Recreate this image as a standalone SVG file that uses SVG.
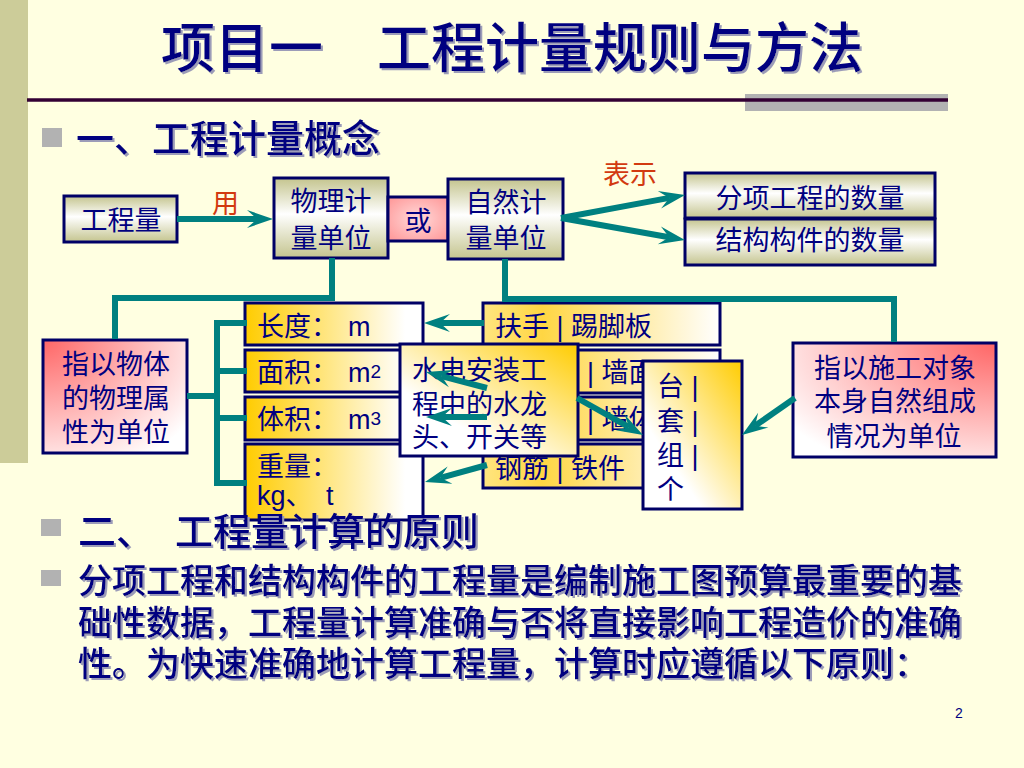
<svg xmlns="http://www.w3.org/2000/svg" width="1024" height="768" viewBox="0 0 1024 768">
<defs>
<linearGradient id="olive" x1="0" y1="0" x2="0" y2="1">
<stop offset="0" stop-color="#C4C48E"/>
<stop offset="0.45" stop-color="#FFFFFF"/>
<stop offset="1" stop-color="#C4C48E"/>
</linearGradient>
<radialGradient id="pinkC" cx="0.5" cy="0.5" r="0.75">
<stop offset="0" stop-color="#FFDADA"/>
<stop offset="1" stop-color="#FF9090"/>
</radialGradient>
<radialGradient id="pinkTL" cx="0" cy="0" r="1.25">
<stop offset="0" stop-color="#FF6666"/>
<stop offset="1" stop-color="#FFFFFF"/>
</radialGradient>
<radialGradient id="pinkTR" cx="1" cy="0" r="1.25">
<stop offset="0" stop-color="#FF6666"/>
<stop offset="1" stop-color="#FFFFFF"/>
</radialGradient>
<linearGradient id="goldL" x1="0" y1="0" x2="1" y2="0">
<stop offset="0" stop-color="#FFCC00"/>
<stop offset="0.9" stop-color="#FFFFFF"/>
</linearGradient>
<linearGradient id="goldRow" x1="0" y1="0" x2="1" y2="0">
<stop offset="0" stop-color="#FFE580"/>
<stop offset="0.25" stop-color="#FFD643"/>
<stop offset="1" stop-color="#FFFFFF"/>
</linearGradient>
<linearGradient id="goldTR" x1="1" y1="0" x2="0" y2="1">
<stop offset="0" stop-color="#FFCC00"/>
<stop offset="0.7" stop-color="#FFFFFF"/>
</linearGradient>
<filter id="shadow" x="-5%" y="-20%" width="110%" height="140%">
<feDropShadow dx="2" dy="2" stdDeviation="0.3" flood-color="#9C9CB8" flood-opacity="1"/>
</filter>
<marker id="ah" markerUnits="userSpaceOnUse" markerWidth="26" markerHeight="18" refX="10" refY="9" orient="auto" overflow="visible">
<path d="M0,0 L26,9 L0,18 L10,9 Z" fill="#008080"/>
</marker>
<style>
.box{stroke:#000066;stroke-width:3}
.t{font-family:"Liberation Sans","Noto Sans CJK SC",sans-serif;fill:#000080;font-size:27px}
.c{text-anchor:middle}
.h{font-family:"Noto Sans CJK SC",sans-serif;fill:#000080;font-weight:500;filter:url(#shadow)}
.red{font-family:"Noto Sans CJK SC",sans-serif;fill:#D23A10;font-size:27px}
.conn{fill:none;stroke:#008080;stroke-width:6}
.arr{stroke:#008080;stroke-width:6;marker-end:url(#ah)}
.bul{fill:#B2B2B2}
</style>
</defs>

<rect x="0" y="0" width="1024" height="768" fill="#FFFFE1"/>
<rect x="0" y="0" width="28" height="463" fill="#CCCC99"/>

<g id="title">
<text class="h" x="512" y="68" font-size="54" text-anchor="middle">项目一　工程计量规则与方法</text>
<rect x="745" y="94" width="203" height="17" fill="#B2B2B2"/>
<line x1="27" y1="100" x2="948" y2="100" stroke="#330033" stroke-width="3.5"/>
</g>

<g id="heading1">
<rect class="bul" x="42" y="128" width="20" height="19"/>
<text class="h" x="76" y="152" font-size="38">一、工程计量概念</text>
</g>

<g id="n-gongchengliang">
<rect class="box" x="64" y="196" width="113" height="46" fill="url(#olive)"/>
<text class="t c" x="121" y="230" font-size="28">工程量</text>
</g>
<g id="lbl-yong"><text class="red" x="212" y="213">用</text></g>

<g id="n-wuli">
<rect class="box" x="274" y="178" width="114" height="80" fill="url(#olive)"/>
<text class="t c" x="331" y="211" font-size="28">物理计</text>
<text class="t c" x="331" y="248" font-size="28">量单位</text>
</g>

<g id="n-huo">
<rect class="box" x="388" y="197" width="60" height="44" fill="url(#pinkC)"/>
<text class="t c" x="418" y="231" font-size="28">或</text>
</g>

<g id="n-ziran">
<rect class="box" x="448" y="179" width="115" height="80" fill="url(#olive)"/>
<text class="t c" x="506" y="212" font-size="28">自然计</text>
<text class="t c" x="506" y="248" font-size="28">量单位</text>
</g>
<g id="lbl-biaoshi"><text class="red" x="603" y="184">表示</text></g>

<g id="n-fenxiang">
<rect class="box" x="685" y="173" width="250" height="45" fill="url(#olive)"/>
<text class="t c" x="810" y="208" font-size="28">分项工程的数量</text>
</g>
<g id="n-jiegou">
<rect class="box" x="685" y="219" width="250" height="46" fill="url(#olive)"/>
<text class="t c" x="810" y="250" font-size="28">结构构件的数量</text>
</g>

<g id="n-wulishuxing">
<rect class="box" x="43" y="340" width="144" height="113" fill="url(#pinkTL)"/>
<text class="t c" x="116" y="374">指以物体</text>
<text class="t c" x="116" y="408">的物理属</text>
<text class="t c" x="116" y="442">性为单位</text>
</g>

<g id="n-changdu">
<rect class="box" x="245" y="303" width="178" height="42" fill="url(#goldL)"/>
<text class="t" x="257" y="336">长度：<tspan x="348">m</tspan></text>
</g>
<g id="n-mianji">
<rect class="box" x="245" y="350" width="178" height="42" fill="url(#goldL)"/>
<text class="t" x="257" y="382">面积：<tspan x="348">m</tspan><tspan font-size="19" dy="-4">2</tspan></text>
</g>
<g id="n-tiji">
<rect class="box" x="245" y="397" width="178" height="43" fill="url(#goldL)"/>
<text class="t" x="257" y="429">体积：<tspan x="348">m</tspan><tspan font-size="19" dy="-4">3</tspan></text>
</g>
<g id="n-zhongliang">
<rect class="box" x="245" y="444" width="178" height="76" fill="url(#goldL)"/>
<text class="t" x="257" y="476">重量：</text>
<text class="t" x="257" y="505">kg、<tspan x="326">t</tspan></text>
</g>

<g id="n-fushou">
<rect class="box" x="483" y="303" width="237" height="42" fill="url(#goldRow)"/>
<text class="t" x="495" y="336">扶手 | 踢脚板</text>
</g>
<g id="n-qiangmian">
<rect class="box" x="483" y="350" width="237" height="43" fill="url(#goldRow)"/>
<text class="t" x="587" y="382">| 墙面</text>
</g>
<g id="n-qiangti">
<rect class="box" x="483" y="397" width="237" height="43" fill="url(#goldRow)"/>
<text class="t" x="587" y="429">| 墙体</text>
</g>
<g id="n-gangjin">
<rect class="box" x="483" y="444" width="237" height="44" fill="url(#goldRow)"/>
<text class="t" x="495" y="478">钢筋 | 铁件</text>
</g>

<g id="n-shuidian">
<rect class="box" x="400" y="344" width="178" height="112" fill="url(#goldTR)"/>
<text class="t" x="412" y="380">水电安装工</text>
<text class="t" x="412" y="414">程中的水龙</text>
<text class="t" x="412" y="447">头、开关等</text>
</g>

<g id="n-taitao">
<rect class="box" x="643" y="361" width="99" height="148" fill="url(#goldTR)"/>
<text class="t" x="657" y="396">台 |</text>
<text class="t" x="657" y="431">套 |</text>
<text class="t" x="657" y="465">组 |</text>
<text class="t" x="657" y="499">个</text>
</g>

<g id="n-shigong">
<rect class="box" x="793" y="343" width="203" height="114" fill="url(#pinkTR)"/>
<text class="t c" x="895" y="378">指以施工对象</text>
<text class="t c" x="895" y="411">本身自然组成</text>
<text class="t c" x="894" y="446">情况为单位</text>
</g>

<g id="connectors">
<polyline class="conn" points="332,258 332,298 115,298 115,339"/>
<polyline class="conn" points="505,259 505,299 894,299 894,342"/>
<line class="conn" x1="187" y1="396" x2="217" y2="396"/>
<polyline class="conn" points="247,323 217,323 217,483 247,483"/>
<line class="conn" x1="217" y1="371" x2="247" y2="371"/>
<line class="conn" x1="217" y1="418" x2="247" y2="418"/>
<line class="arr" x1="177" y1="219" x2="257" y2="219"/>
<line class="arr" x1="561" y1="218" x2="669.3" y2="197.9"/>
<line class="arr" x1="561" y1="218" x2="669.2" y2="237.2"/>
<line class="arr" x1="484" y1="323" x2="440" y2="323"/>
<line class="arr" x1="487" y1="388" x2="441.5" y2="376.1"/>
<line class="arr" x1="487" y1="417" x2="442" y2="417"/>
<line class="arr" x1="487" y1="465" x2="440.4" y2="477.8"/>
<line class="arr" x1="577" y1="398" x2="629" y2="427.2"/>
<line class="arr" x1="795" y1="398" x2="755.1" y2="425.8"/>
</g>

<g id="heading2">
<rect class="bul" x="41" y="519" width="20" height="17"/>
<text class="h" x="78" y="545" font-size="38">二、<tspan x="175">工程量计算的原则</tspan></text>
</g>

<g id="paragraph">
<rect class="bul" x="41" y="570" width="20" height="16"/>
<text class="h" font-size="34"><tspan x="78" y="593">分项工程和结构构件的工程量是编制施工图预算最重要的基</tspan><tspan x="78" y="635">础性数据，工程量计算准确与否将直接影响工程造价的准确</tspan><tspan x="78" y="676">性。为快速准确地计算工程量，计算时应遵循以下原则：</tspan></text>
</g>

<g id="page"><text x="955" y="718" font-family="Liberation Sans, sans-serif" font-size="14" fill="#000080">2</text></g>
</svg>
